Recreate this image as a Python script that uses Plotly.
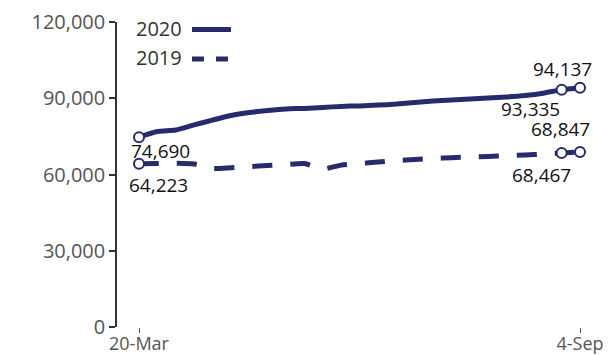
import pandas as pd
import plotly.graph_objects as go

# ---- data ----
dates = pd.date_range("2020-03-20", "2020-09-04", freq="7D").strftime("%Y-%m-%d").tolist()
values_2020 = [74690, 76900, 77500, 79500, 81400, 83200, 84400, 85200, 85800, 86000,
               86400, 86800, 87000, 87300, 87700, 88300, 88900, 89300, 89700, 90100,
               90500, 91100, 92000, 93335, 94137]
values_2019 = [64223, 64300, 64400, 64100, 62400, 62700, 63100, 63500, 63900, 64300,
               62150, 63700, 64300, 64900, 65500, 65900, 66300, 66600, 66900, 67100,
               67400, 67700, 68000, 68467, 68847]
series_names = ["2020", "2019"]
x_tick_vals = [dates[0], dates[-1]]
x_tick_text = ["20-Mar", "4-Sep"]
y_tick_vals = [0, 30000, 60000, 90000, 120000]
marker_idx = [0, 23, 24]

NAVY = "#262c6b"
W, H = 610, 355
L, R, T, B = 117, 10, 22, 28
pw, ph = W - L - R, H - T - B

def px_x(p):
    return (p - L) / pw

def px_y(p):
    return (H - B - p) / ph

start = pd.Timestamp(dates[0]) - pd.Timedelta(hours=8.38 * 24)
end = pd.Timestamp(dates[-1]) + pd.Timedelta(hours=7.62 * 24)

fig = go.Figure()
fig.add_trace(go.Scatter(x=dates, y=values_2020, mode="lines",
                         line=dict(color=NAVY, width=5, shape="spline", smoothing=0.6),
                         showlegend=False, hoverinfo="skip"))
fig.add_trace(go.Scatter(x=dates, y=values_2019, mode="lines",
                         line=dict(color=NAVY, width=5, dash="20px,18px", shape="spline", smoothing=0.6),
                         showlegend=False, hoverinfo="skip"))
for vals in (values_2020, values_2019):
    fig.add_trace(go.Scatter(x=[dates[i] for i in marker_idx], y=[vals[i] for i in marker_idx],
                             mode="markers",
                             marker=dict(size=10, color="white", line=dict(color=NAVY, width=2)),
                             showlegend=False, hoverinfo="skip"))

# data labels: (series, index, xshift, yshift)
label_specs = [
    (values_2020, 0, 21, -14),
    (values_2019, 0, 19, -21),
    (values_2020, 24, -18, 19),
    (values_2020, 23, -31, -19),
    (values_2019, 24, -20, 23),
    (values_2019, 23, -20, -22),
]
for vals, i, xs, ys in label_specs:
    fig.add_annotation(x=dates[i], y=vals[i], text=f"{vals[i]:,}", showarrow=False,
                       xshift=xs, yshift=ys, xanchor="center", yanchor="middle", borderpad=0,
                       font=dict(family="Open Sans", size=19, color="#111111"))

# legend (text left, line sample right)
leg_rows = [(series_names[0], 28.5, "solid"), (series_names[1], 58, "12px,12px")]
for name, py, dash in leg_rows:
    fig.add_annotation(xref="paper", yref="paper", x=px_x(184), y=px_y(py), text=name,
                       showarrow=False, xanchor="right", yanchor="middle",
                       font=dict(family="Open Sans", size=20, color="#333333"))
    fig.add_shape(type="line", xref="paper", yref="paper",
                  x0=px_x(192), x1=px_x(231), y0=px_y(py + 1), y1=px_y(py + 1),
                  line=dict(color=NAVY, width=5, dash=dash))

fig.update_layout(
    width=W, height=H,
    margin=dict(l=L, r=R, t=T, b=B, pad=0, autoexpand=False),
    paper_bgcolor="white", plot_bgcolor="white",
    showlegend=False,
    font=dict(family="Open Sans", color="#555555", size=18),
)
fig.update_xaxes(type="date", range=[start, end], tickvals=x_tick_vals, ticktext=x_tick_text,
                 showgrid=False, zeroline=False, showline=False, automargin=False,
                 ticks="outside", ticklen=5, tickwidth=1, tickcolor="#555555",
                 ticklabelstandoff=-5,
                 tickfont=dict(family="Open Sans", size=18, color="#555555"))
fig.update_yaxes(range=[0, 120000], tickvals=y_tick_vals, tickformat=",d", automargin=False,
                 showgrid=False, zeroline=False, showline=True, linecolor="#333333", linewidth=1.5,
                 ticks="outside", ticklen=6, tickwidth=1.5, tickcolor="#333333",
                 tickfont=dict(family="Open Sans", size=20, color="#555555"))

fig.write_html("out.html")
